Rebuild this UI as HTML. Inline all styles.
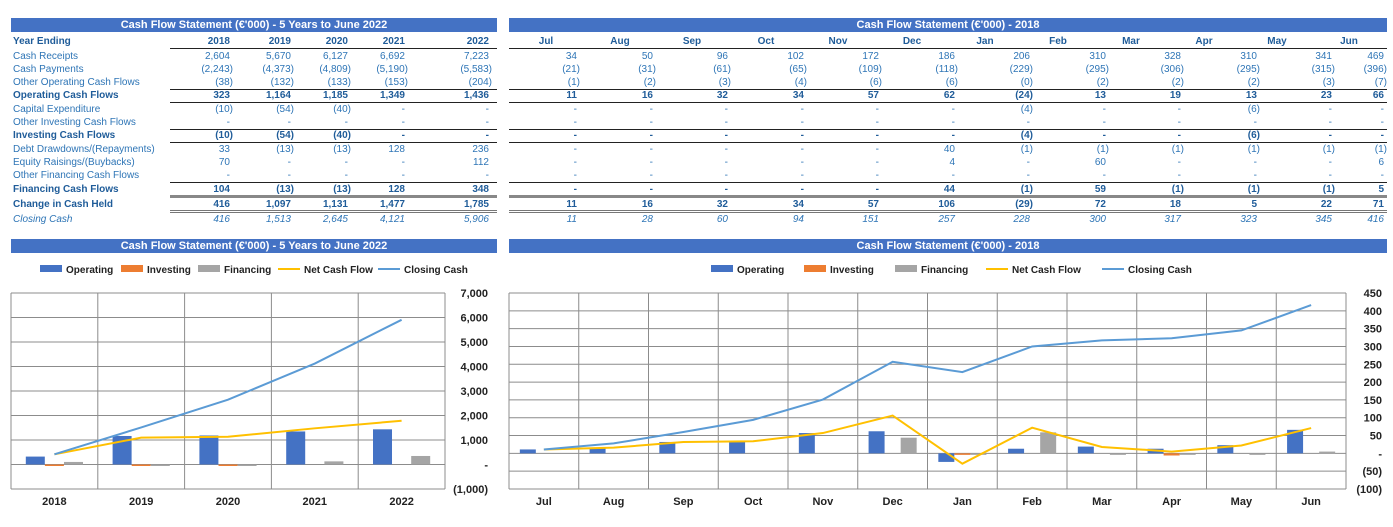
<!DOCTYPE html>
<html><head><meta charset="utf-8">
<style>
body{margin:0;width:1393px;height:527px;background:#fff;position:relative;overflow:hidden;font-family:"Liberation Sans",sans-serif;font-size:10px;color:#2E75B6}
.t{position:absolute;white-space:nowrap;line-height:12px}
.bar{position:absolute;background:#4472C4;color:#fff;font-weight:bold;font-size:11px;text-align:center;line-height:14px;height:14px}
.hl{position:absolute;height:0;border-top:1px solid #222}
.dl{position:absolute;height:1px;border-top:1px solid #777;border-bottom:1px solid #777}
.tk{position:absolute;height:0;border-top:3px solid #888}
.b{font-weight:bold;color:#1F5C99}
.i{font-style:italic}
svg{position:absolute;left:0;top:0}
</style></head><body>
<div class="bar" style="left:11px;top:18px;width:486px">Cash Flow Statement (€'000) - 5 Years to June 2022</div>
<div class="bar" style="left:509px;top:18px;width:878px">Cash Flow Statement (€'000) - 2018</div>
<div class="bar" style="left:11px;top:239px;width:486px">Cash Flow Statement (€'000) - 5 Years to June 2022</div>
<div class="bar" style="left:509px;top:239px;width:878px">Cash Flow Statement (€'000) - 2018</div>
<div id="tables"></div>
<svg id="ch" width="1393" height="527"></svg>
<script>
// ---- table data ----
const rowLabels=['Cash Receipts','Cash Payments','Other Operating Cash Flows','Operating Cash Flows','Capital Expenditure','Other Investing Cash Flows','Investing Cash Flows','Debt Drawdowns/(Repayments)','Equity Raisings/(Buybacks)','Other Financing Cash Flows','Financing Cash Flows','Change in Cash Held','Closing Cash'];
const rowStyle=['','','','b','','','b','','','','b','b','i'];
const rowY=[51,64,77,90,104,117,130,144,157,170,184,199,214];
const years=['2018','2019','2020','2021','2022'];
const annualRows=[
['2,604','5,670','6,127','6,692','7,223'],
['(2,243)','(4,373)','(4,809)','(5,190)','(5,583)'],
['(38)','(132)','(133)','(153)','(204)'],
['323','1,164','1,185','1,349','1,436'],
['(10)','(54)','(40)','-','-'],
['-','-','-','-','-'],
['(10)','(54)','(40)','-','-'],
['33','(13)','(13)','128','236'],
['70','-','-','-','112'],
['-','-','-','-','-'],
['104','(13)','(13)','128','348'],
['416','1,097','1,131','1,477','1,785'],
['416','1,513','2,645','4,121','5,906']];
const months=['Jul','Aug','Sep','Oct','Nov','Dec','Jan','Feb','Mar','Apr','May','Jun'];
const monthlyRows=[
['34','50','96','102','172','186','206','310','328','310','341','469'],
['(21)','(31)','(61)','(65)','(109)','(118)','(229)','(295)','(306)','(295)','(315)','(396)'],
['(1)','(2)','(3)','(4)','(6)','(6)','(0)','(2)','(2)','(2)','(3)','(7)'],
['11','16','32','34','57','62','(24)','13','19','13','23','66'],
['-','-','-','-','-','-','(4)','-','-','(6)','-','-'],
['-','-','-','-','-','-','-','-','-','-','-','-'],
['-','-','-','-','-','-','(4)','-','-','(6)','-','-'],
['-','-','-','-','-','40','(1)','(1)','(1)','(1)','(1)','(1)'],
['-','-','-','-','-','4','-','60','-','-','-','6'],
['-','-','-','-','-','-','-','-','-','-','-','-'],
['-','-','-','-','-','44','(1)','59','(1)','(1)','(1)','5'],
['11','16','32','34','57','106','(29)','72','18','5','22','71'],
['11','28','60','94','151','257','228','300','317','323','345','416']];
const T=document.getElementById('tables');
function txt(s,x,y,cls,align){const d=document.createElement('div');d.className='t '+(cls||'');d.textContent=s;
 if(align==='r'){d.style.right=(1393-x)+'px';}else if(align==='c'){d.style.left=(x-30)+'px';d.style.width='60px';d.style.textAlign='center';}else d.style.left=x+'px';
 d.style.top=y+'px';T.appendChild(d);return d;}
function line(cls,x,y,w){const d=document.createElement('div');d.className=cls;d.style.left=x+'px';d.style.top=y+'px';d.style.width=w+'px';
 
 
 T.appendChild(d);}
let e=txt('Year Ending',13,36,'b');


const aCols=[230,291,348,405,489];
years.forEach((y,j)=>{const d=txt(y,aCols[j],36,'b','r');
 
 });
const mCols=[577,653,728,804,879,955,1030,1106,1181,1257,1332,1384];
const mHead=[546,620,692,766,838,912,985,1058,1131,1204,1277,1349];
months.forEach((m,j)=>{const d=txt(m,mHead[j],36,'b','c');
 
 });
rowLabels.forEach((l,i)=>{const cls=rowStyle[i];
 const d=txt(l,13,rowY[i],cls);
 
 
 annualRows[i].forEach((v,j)=>{const c=txt(v,aCols[j]+(v.endsWith(')')?3:0),rowY[i],cls,'r');
  
  });
 monthlyRows[i].forEach((v,j)=>{const c=txt(v,mCols[j]+(v.endsWith(')')?3:0),rowY[i],cls,'r');
  
  });
});
[[48],[89],[102],[129],[142],[182]].forEach(a=>{line('hl',170,a[0],327);line('hl',509,a[0],878);});
line('tk',170,195,327);line('tk',509,195,878);
line('dl',170,210,327);line('dl',509,210,878);

// ---- chart data ----
const yearCats=['2018','2019','2020','2021','2022'];
const yOperating=[323,1164,1185,1349,1436];
const yInvesting=[-10,-54,-40,0,0];
const yFinancing=[104,-13,-13,128,348];
const yNet=[416,1097,1131,1477,1785];
const yClosing=[416,1513,2645,4121,5906];
const yTicks=[7000,6000,5000,4000,3000,2000,1000,0,-1000];
const yTickLabels=['7,000','6,000','5,000','4,000','3,000','2,000','1,000','-','(1,000)'];
const monthCats=['Jul','Aug','Sep','Oct','Nov','Dec','Jan','Feb','Mar','Apr','May','Jun'];
const mOperating=[11,16,32,34,57,62,-24,13,19,13,23,66];
const mInvesting=[0,0,0,0,0,0,-4,0,0,-6,0,0];
const mFinancing=[0,0,0,0,0,44,-1,59,-1,-1,-1,5];
const mNet=[11,16,32,34,57,106,-29,72,18,5,22,71];
const mClosing=[11,28,60,94,151,257,228,300,317,323,345,416];
const mTicks=[450,400,350,300,250,200,150,100,50,0,-50,-100];
const mTickLabels=['450','400','350','300','250','200','150','100','50','-','(50)','(100)'];

const NS='http://www.w3.org/2000/svg';const S=document.getElementById('ch');
function el(t,a,parent){const n=document.createElementNS(NS,t);for(const k in a)n.setAttribute(k,a[k]);(parent||S).appendChild(n);return n;}
function chart(cfg){
 const {x0,x1,yTop,yBot,vmax,vmin,cats,op,inv,fin,net,clo,ticks,labels,labelX,bw,off,legend,name}=cfg;
 const g=el('g',{});
 
 
 const Y=v=>yTop+(vmax-v)/(vmax-vmin)*(yBot-yTop);
 const cw=(x1-x0)/cats.length;const X=i=>x0+cw*(i+0.5);
 ticks.forEach((t,i)=>{el('line',{x1:x0,x2:x1,y1:Y(t),y2:Y(t),stroke:'#8c8c8c','stroke-width':1},g);
  const l=el('text',{x:labelX,y:Y(t)+4,'text-anchor':'end','font-size':11,'font-weight':'bold',fill:'#222'},g);l.textContent=labels[i];
  
  });
 for(let i=0;i<=cats.length;i++)el('line',{x1:x0+cw*i,x2:x0+cw*i,y1:yTop,y2:yBot,stroke:'#8c8c8c','stroke-width':1},g);
 const series=[[op,'#4472C4',-1],[inv,'#ED7D31',0],[fin,'#A5A5A5',1]];
 cats.forEach((c,i)=>{
  series.forEach(([arr,col,k])=>{const v=arr[i];if(v===0)return;const cx=X(i)+k*off*cw;
   const r=el('rect',{x:cx-bw/2,y:Math.min(Y(v),Y(0)),width:bw,height:Math.max(1.5,Math.abs(Y(v)-Y(0))),fill:col},g);
   
   });
  const l=el('text',{x:X(i),y:yBot+16,'text-anchor':'middle','font-size':11,'font-weight':'bold',fill:'#222'},g);l.textContent=c;
  
  
 });
 [[net,'#FFC000','net-cash-flow-line'],[clo,'#5B9BD5','closing-cash-line']].forEach(([arr,col,nm])=>{
  const p=el('polyline',{points:arr.map((v,i)=>X(i)+','+Y(v)).join(' '),fill:'none',stroke:col,'stroke-width':2},g);
  
  });
 const items=[['Operating','#4472C4','b'],['Investing','#ED7D31','b'],['Financing','#A5A5A5','b'],['Net Cash Flow','#FFC000','l'],['Closing Cash','#5B9BD5','l']];
 items.forEach((it,i)=>{const lx=legend[i];
  if(it[2]==='b')el('rect',{x:lx,y:265,width:22,height:7,fill:it[1]},g);else el('line',{x1:lx,x2:lx+22,y1:269,y2:269,stroke:it[1],'stroke-width':2},g);
  const t=el('text',{x:lx+26,y:273,'font-size':10,'font-weight':'bold',fill:'#222'},g);t.textContent=it[0];
  
  });
}
chart({name:'annual-chart',x0:11,x1:445,yTop:293,yBot:489,vmax:7000,vmin:-1000,cats:yearCats,op:yOperating,inv:yInvesting,fin:yFinancing,net:yNet,clo:yClosing,ticks:yTicks,labels:yTickLabels,labelX:488,bw:19,off:0.22,legend:[40,121,198,278,378]});
chart({name:'monthly-chart',x0:509,x1:1346,yTop:293,yBot:489,vmax:450,vmin:-100,cats:monthCats,op:mOperating,inv:mInvesting,fin:mFinancing,net:mNet,clo:mClosing,ticks:mTicks,labels:mTickLabels,labelX:1382,bw:16,off:0.23,legend:[711,804,895,986,1102]});
</script>
</body></html>
